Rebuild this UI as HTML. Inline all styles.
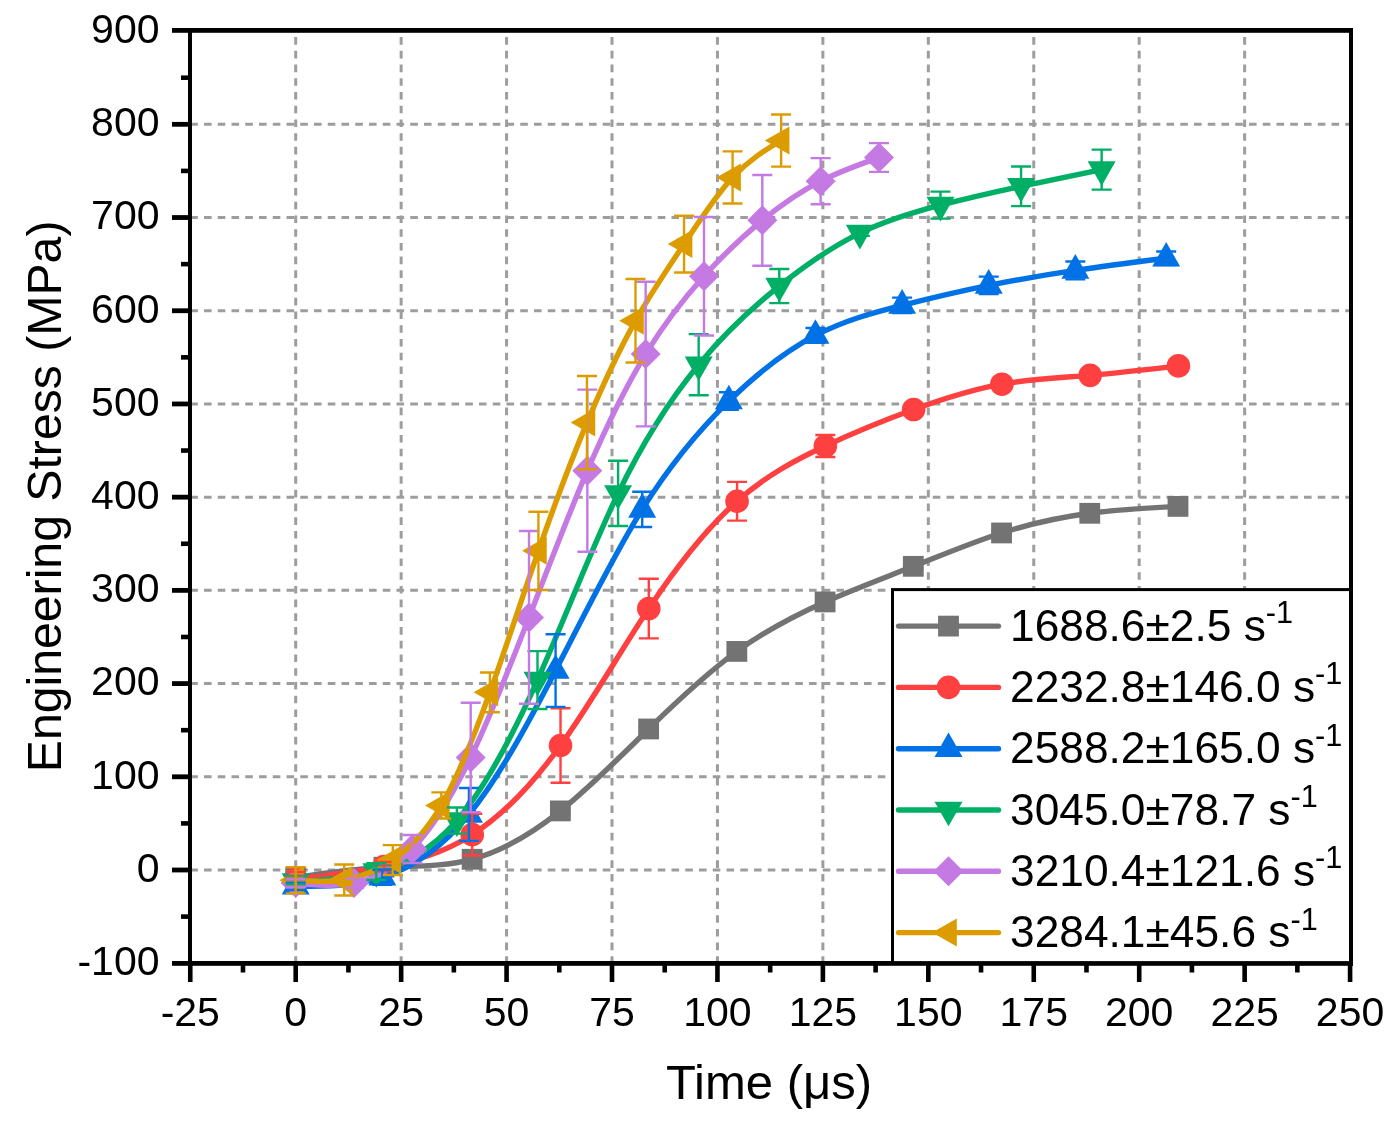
<!DOCTYPE html>
<html><head><meta charset="utf-8"><title>Engineering Stress vs Time</title>
<style>html,body{margin:0;padding:0;background:#fff;}body{width:1397px;height:1124px;overflow:hidden;}svg{display:block;will-change:transform;font-family:"Liberation Sans", sans-serif;}</style></head><body>
<svg width="1397" height="1124" viewBox="0 0 1397 1124">
<rect width="1397" height="1124" fill="#fff"/>
<g stroke="#9d9d9d" stroke-width="3" fill="none">
<line x1="190.25" y1="870.00" x2="1351.0" y2="870.00" stroke-dasharray="7.6 6.15"/>
<line x1="190.25" y1="776.79" x2="1351.0" y2="776.79" stroke-dasharray="7.6 6.15"/>
<line x1="190.25" y1="683.58" x2="1351.0" y2="683.58" stroke-dasharray="7.6 6.15"/>
<line x1="190.25" y1="590.37" x2="1351.0" y2="590.37" stroke-dasharray="7.6 6.15"/>
<line x1="190.25" y1="497.16" x2="1351.0" y2="497.16" stroke-dasharray="7.6 6.15"/>
<line x1="190.25" y1="403.95" x2="1351.0" y2="403.95" stroke-dasharray="7.6 6.15"/>
<line x1="190.25" y1="310.74" x2="1351.0" y2="310.74" stroke-dasharray="7.6 6.15"/>
<line x1="190.25" y1="217.53" x2="1351.0" y2="217.53" stroke-dasharray="7.6 6.15"/>
<line x1="190.25" y1="124.32" x2="1351.0" y2="124.32" stroke-dasharray="7.6 6.15"/>
<line x1="295.70" y1="37.1" x2="295.70" y2="963.4" stroke-dasharray="7.6 6.12"/>
<line x1="401.14" y1="37.1" x2="401.14" y2="963.4" stroke-dasharray="7.6 6.12"/>
<line x1="506.57" y1="37.1" x2="506.57" y2="963.4" stroke-dasharray="7.6 6.12"/>
<line x1="612.01" y1="37.1" x2="612.01" y2="963.4" stroke-dasharray="7.6 6.12"/>
<line x1="717.45" y1="37.1" x2="717.45" y2="963.4" stroke-dasharray="7.6 6.12"/>
<line x1="822.89" y1="37.1" x2="822.89" y2="963.4" stroke-dasharray="7.6 6.12"/>
<line x1="928.33" y1="37.1" x2="928.33" y2="963.4" stroke-dasharray="7.6 6.12"/>
<line x1="1033.76" y1="37.1" x2="1033.76" y2="963.4" stroke-dasharray="7.6 6.12"/>
<line x1="1139.20" y1="37.1" x2="1139.20" y2="963.4" stroke-dasharray="7.6 6.12"/>
<line x1="1244.64" y1="37.1" x2="1244.64" y2="963.4" stroke-dasharray="7.6 6.12"/>
</g>
<path d="M295.70 877.46C325.11 873.07 354.52 868.69 383.93 867.20C413.34 865.72 442.75 867.12 472.16 859.28C501.57 851.44 530.98 834.35 560.39 810.90C589.80 787.46 619.21 757.65 648.62 728.97C678.03 700.30 707.44 672.76 736.85 651.42C766.26 630.09 795.67 614.96 825.08 601.93C854.49 588.90 883.90 577.97 913.31 566.32C942.72 554.68 972.13 542.32 1001.54 532.95C1030.95 523.59 1060.36 517.21 1089.77 513.29C1119.18 509.36 1148.59 507.87 1178.00 506.39" fill="none" stroke="#737373" stroke-width="5.4" stroke-linejoin="round" stroke-linecap="round"/>
<rect x="285.30" y="867.06" width="20.80" height="20.80" fill="#737373"/>
<rect x="373.53" y="856.80" width="20.80" height="20.80" fill="#737373"/>
<rect x="461.76" y="848.88" width="20.80" height="20.80" fill="#737373"/>
<rect x="549.99" y="800.50" width="20.80" height="20.80" fill="#737373"/>
<rect x="638.22" y="718.57" width="20.80" height="20.80" fill="#737373"/>
<rect x="726.45" y="641.02" width="20.80" height="20.80" fill="#737373"/>
<rect x="814.68" y="591.53" width="20.80" height="20.80" fill="#737373"/>
<rect x="902.91" y="555.92" width="20.80" height="20.80" fill="#737373"/>
<rect x="991.14" y="522.55" width="20.80" height="20.80" fill="#737373"/>
<rect x="1079.37" y="502.89" width="20.80" height="20.80" fill="#737373"/>
<rect x="1167.60" y="495.99" width="20.80" height="20.80" fill="#737373"/>
<path d="M295.70 879.32C325.12 875.78 354.55 872.25 383.97 866.64C413.40 861.04 442.82 853.37 472.24 834.67C501.67 815.97 531.09 786.25 560.52 745.47C589.94 704.70 619.37 652.87 648.79 608.55C678.21 564.22 707.64 527.39 737.06 501.26C766.49 475.13 795.91 459.71 825.33 445.99C854.76 432.26 884.18 420.24 913.61 409.54C943.03 398.85 972.45 389.48 1001.88 384.19C1031.30 378.90 1060.73 377.70 1090.15 375.33C1119.57 372.97 1149.00 369.45 1178.42 365.92" fill="none" stroke="#ff4040" stroke-width="5.4" stroke-linejoin="round" stroke-linecap="round"/>
<circle cx="295.70" cy="879.32" r="11.8" fill="#ff4040"/>
<circle cx="383.97" cy="866.64" r="11.8" fill="#ff4040"/>
<circle cx="472.24" cy="834.67" r="11.8" fill="#ff4040"/>
<circle cx="560.52" cy="745.47" r="11.8" fill="#ff4040"/>
<circle cx="648.79" cy="608.55" r="11.8" fill="#ff4040"/>
<circle cx="737.06" cy="501.26" r="11.8" fill="#ff4040"/>
<circle cx="825.33" cy="445.99" r="11.8" fill="#ff4040"/>
<circle cx="913.61" cy="409.54" r="11.8" fill="#ff4040"/>
<circle cx="1001.88" cy="384.19" r="11.8" fill="#ff4040"/>
<circle cx="1090.15" cy="375.33" r="11.8" fill="#ff4040"/>
<circle cx="1178.42" cy="365.92" r="11.8" fill="#ff4040"/>
<path d="M295.70 886.31C324.58 886.35 353.45 886.38 382.33 877.27C411.20 868.16 440.08 849.90 468.95 814.45C497.83 778.99 526.71 726.34 555.58 670.53C584.46 614.72 613.33 555.76 642.21 509.37C671.09 462.98 699.96 429.18 728.84 401.06C757.71 372.95 786.59 350.52 815.46 335.44C844.34 320.36 873.22 312.61 902.09 305.33C930.97 298.05 959.84 291.24 988.72 285.39C1017.60 279.54 1046.47 274.66 1075.35 270.38C1105.63 265.90 1135.91 262.08 1166.19 258.26" fill="none" stroke="#0072e5" stroke-width="5.4" stroke-linejoin="round" stroke-linecap="round"/>
<path d="M295.70 870.01L309.70 894.61L281.70 894.61Z" fill="#0072e5"/>
<path d="M382.33 860.97L396.33 885.57L368.33 885.57Z" fill="#0072e5"/>
<path d="M468.95 798.15L482.95 822.75L454.95 822.75Z" fill="#0072e5"/>
<path d="M555.58 654.23L569.58 678.83L541.58 678.83Z" fill="#0072e5"/>
<path d="M642.21 493.07L656.21 517.67L628.21 517.67Z" fill="#0072e5"/>
<path d="M728.84 384.76L742.84 409.36L714.84 409.36Z" fill="#0072e5"/>
<path d="M815.46 319.14L829.46 343.74L801.46 343.74Z" fill="#0072e5"/>
<path d="M902.09 289.03L916.09 313.63L888.09 313.63Z" fill="#0072e5"/>
<path d="M988.72 269.09L1002.72 293.69L974.72 293.69Z" fill="#0072e5"/>
<path d="M1075.35 254.08L1089.35 278.68L1061.35 278.68Z" fill="#0072e5"/>
<path d="M1166.19 241.96L1180.19 266.56L1152.19 266.56Z" fill="#0072e5"/>
<path d="M295.70 881.65C322.57 880.13 349.43 878.61 376.30 871.49C403.16 864.37 430.03 851.65 456.89 820.60C483.76 789.54 510.62 740.15 537.49 680.04C564.35 619.93 591.22 549.10 618.09 493.43C644.95 437.77 671.82 397.27 698.68 364.71C725.55 332.15 752.41 307.52 779.28 286.04C806.14 264.55 833.01 246.21 859.87 233.10C886.74 219.99 913.61 212.11 940.47 205.13C967.34 198.16 994.20 192.07 1021.07 186.30C1047.93 180.54 1074.80 175.08 1101.66 169.62" fill="none" stroke="#00af66" stroke-width="5.4" stroke-linejoin="round" stroke-linecap="round"/>
<path d="M295.70 897.95L309.70 873.35L281.70 873.35Z" fill="#00af66"/>
<path d="M376.30 887.79L390.30 863.19L362.30 863.19Z" fill="#00af66"/>
<path d="M456.89 836.90L470.89 812.30L442.89 812.30Z" fill="#00af66"/>
<path d="M537.49 696.34L551.49 671.74L523.49 671.74Z" fill="#00af66"/>
<path d="M618.09 509.73L632.09 485.13L604.09 485.13Z" fill="#00af66"/>
<path d="M698.68 381.01L712.68 356.41L684.68 356.41Z" fill="#00af66"/>
<path d="M779.28 302.34L793.28 277.74L765.28 277.74Z" fill="#00af66"/>
<path d="M859.87 249.40L873.87 224.80L845.87 224.80Z" fill="#00af66"/>
<path d="M940.47 221.43L954.47 196.83L926.47 196.83Z" fill="#00af66"/>
<path d="M1021.07 202.60L1035.07 178.00L1007.07 178.00Z" fill="#00af66"/>
<path d="M1101.66 185.92L1115.66 161.32L1087.66 161.32Z" fill="#00af66"/>
<path d="M295.70 882.96C315.14 884.95 334.59 886.94 354.03 883.05C373.47 879.16 392.91 869.38 412.36 849.03C431.80 828.67 451.24 797.73 470.68 757.50C490.13 717.26 509.57 667.73 529.01 617.40C548.45 567.08 567.90 515.96 587.34 470.69C606.78 425.42 626.23 386.00 645.67 354.08C665.11 322.16 684.55 297.74 704.00 276.25C723.44 254.77 742.88 236.22 762.32 220.33C781.77 204.44 801.21 191.21 820.65 181.18C840.09 171.15 859.54 164.33 878.98 157.50" fill="none" stroke="#c479e3" stroke-width="5.4" stroke-linejoin="round" stroke-linecap="round"/>
<path d="M295.70 867.96L310.70 882.96L295.70 897.96L280.70 882.96Z" fill="#c479e3"/>
<path d="M354.03 868.05L369.03 883.05L354.03 898.05L339.03 883.05Z" fill="#c479e3"/>
<path d="M412.36 834.03L427.36 849.03L412.36 864.03L397.36 849.03Z" fill="#c479e3"/>
<path d="M470.68 742.50L485.68 757.50L470.68 772.50L455.68 757.50Z" fill="#c479e3"/>
<path d="M529.01 602.40L544.01 617.40L529.01 632.40L514.01 617.40Z" fill="#c479e3"/>
<path d="M587.34 455.69L602.34 470.69L587.34 485.69L572.34 470.69Z" fill="#c479e3"/>
<path d="M645.67 339.08L660.67 354.08L645.67 369.08L630.67 354.08Z" fill="#c479e3"/>
<path d="M704.00 261.25L719.00 276.25L704.00 291.25L689.00 276.25Z" fill="#c479e3"/>
<path d="M762.32 205.33L777.32 220.33L762.32 235.33L747.32 220.33Z" fill="#c479e3"/>
<path d="M820.65 166.18L835.65 181.18L820.65 196.18L805.65 181.18Z" fill="#c479e3"/>
<path d="M878.98 142.50L893.98 157.50L878.98 172.50L863.98 157.50Z" fill="#c479e3"/>
<path d="M295.70 880.25C311.88 881.41 328.06 882.56 344.24 879.97C360.42 877.38 376.61 871.04 392.79 860.03C408.97 849.01 425.15 833.31 441.33 805.41C457.51 777.50 473.69 737.38 489.87 692.34C506.05 647.31 522.24 597.36 538.42 550.85C554.60 504.33 570.78 461.25 586.96 422.59C603.14 383.93 619.32 349.70 635.50 320.81C651.69 291.92 667.87 268.37 684.05 244.09C700.23 219.82 716.41 194.83 732.59 177.45C748.77 160.07 764.95 150.30 781.13 140.54" fill="none" stroke="#dc9c00" stroke-width="5.4" stroke-linejoin="round" stroke-linecap="round"/>
<path d="M279.40 880.25L304.00 866.25L304.00 894.25Z" fill="#dc9c00"/>
<path d="M327.94 879.97L352.54 865.97L352.54 893.97Z" fill="#dc9c00"/>
<path d="M376.49 860.03L401.09 846.03L401.09 874.03Z" fill="#dc9c00"/>
<path d="M425.03 805.41L449.63 791.41L449.63 819.41Z" fill="#dc9c00"/>
<path d="M473.57 692.34L498.17 678.34L498.17 706.34Z" fill="#dc9c00"/>
<path d="M522.12 550.85L546.72 536.85L546.72 564.85Z" fill="#dc9c00"/>
<path d="M570.66 422.59L595.26 408.59L595.26 436.59Z" fill="#dc9c00"/>
<path d="M619.20 320.81L643.80 306.81L643.80 334.81Z" fill="#dc9c00"/>
<path d="M667.75 244.09L692.35 230.09L692.35 258.09Z" fill="#dc9c00"/>
<path d="M716.29 177.45L740.89 163.45L740.89 191.45Z" fill="#dc9c00"/>
<path d="M764.83 140.54L789.43 126.54L789.43 154.54Z" fill="#dc9c00"/>
<path d="M295.70 875.59V879.32M285.70 875.59H305.70M285.70 879.32H305.70M383.93 865.34V869.07M373.93 865.34H393.93M373.93 869.07H393.93M472.16 857.42V861.15M462.16 857.42H482.16M462.16 861.15H482.16M560.39 809.04V812.77M550.39 809.04H570.39M550.39 812.77H570.39M648.62 727.11V730.84M638.62 727.11H658.62M638.62 730.84H658.62M736.85 649.56V653.29M726.85 649.56H746.85M726.85 653.29H746.85M825.08 600.06V603.79M815.08 600.06H835.08M815.08 603.79H835.08M913.31 564.46V568.19M903.31 564.46H923.31M903.31 568.19H923.31M1001.54 531.09V534.82M991.54 531.09H1011.54M991.54 534.82H1011.54M1089.77 511.42V515.15M1079.77 511.42H1099.77M1079.77 515.15H1099.77M1178.00 504.52V508.25M1168.00 504.52H1188.00M1168.00 508.25H1188.00" stroke="#737373" stroke-width="2.4" fill="none"/>
<path d="M295.70 872.05V886.59M285.70 872.05H305.70M285.70 886.59H305.70M383.97 861.98V871.30M373.97 861.98H393.97M373.97 871.30H393.97M472.24 813.79V855.55M462.24 813.79H482.24M462.24 855.55H482.24M560.52 708.19V782.76M550.52 708.19H570.52M550.52 782.76H570.52M648.79 578.72V638.37M638.79 578.72H658.79M638.79 638.37H658.79M737.06 481.87V520.65M727.06 481.87H747.06M727.06 520.65H747.06M825.33 434.99V456.99M815.33 434.99H835.33M815.33 456.99H835.33M913.61 406.75V412.34M903.61 406.75H923.61M903.61 412.34H923.61M1001.88 381.39V386.99M991.88 381.39H1011.88M991.88 386.99H1011.88M1090.15 372.54V378.13M1080.15 372.54H1100.15M1080.15 378.13H1100.15M1178.42 363.12V368.72M1168.42 363.12H1188.42M1168.42 368.72H1188.42" stroke="#ff4040" stroke-width="2.4" fill="none"/>
<path d="M295.70 882.58V890.04M285.70 882.58H305.70M285.70 890.04H305.70M382.33 869.81V884.73M372.33 869.81H392.33M372.33 884.73H392.33M468.95 788.07V840.83M458.95 788.07H478.95M458.95 840.83H478.95M555.58 634.18V706.88M545.58 634.18H565.58M545.58 706.88H565.58M642.21 491.75V526.99M632.21 491.75H652.21M632.21 526.99H652.21M728.84 392.30V409.82M718.84 392.30H738.84M718.84 409.82H738.84M815.46 327.98V342.90M805.46 327.98H825.46M805.46 342.90H825.46M902.09 297.60V313.07M892.09 297.60H912.09M892.09 313.07H912.09M988.72 276.63V294.15M978.72 276.63H998.72M978.72 294.15H998.72M1075.35 261.43V279.33M1065.35 261.43H1085.35M1065.35 279.33H1085.35M1166.19 251.55V264.97M1156.19 251.55H1176.19M1156.19 264.97H1176.19" stroke="#0072e5" stroke-width="2.4" fill="none"/>
<path d="M295.70 878.67V884.63M285.70 878.67H305.70M285.70 884.63H305.70M376.30 863.10V879.88M366.30 863.10H386.30M366.30 879.88H386.30M456.89 807.55V833.65M446.89 807.55H466.89M446.89 833.65H466.89M537.49 651.14V708.93M527.49 651.14H547.49M527.49 708.93H547.49M618.09 460.81V526.06M608.09 460.81H628.09M608.09 526.06H628.09M698.68 334.14V395.28M688.68 334.14H708.68M688.68 395.28H708.68M779.28 268.98V303.10M769.28 268.98H789.28M769.28 303.10H789.28M859.87 230.30V235.89M849.87 230.30H869.87M849.87 235.89H869.87M940.47 191.62V218.65M930.47 191.62H950.47M930.47 218.65H950.47M1021.07 166.45V206.16M1011.07 166.45H1031.07M1011.07 206.16H1031.07M1101.66 149.58V189.66M1091.66 149.58H1111.66M1091.66 189.66H1111.66" stroke="#00af66" stroke-width="2.4" fill="none"/>
<path d="M295.70 879.23V886.68M285.70 879.23H305.70M285.70 886.68H305.70M354.03 878.39V887.71M344.03 878.39H364.03M344.03 887.71H364.03M412.36 835.05V863.01M402.36 835.05H422.36M402.36 863.01H422.36M470.68 702.69V812.30M460.68 702.69H480.68M460.68 812.30H480.68M529.01 531.00V703.81M519.01 531.00H539.01M519.01 703.81H539.01M587.34 389.60V551.78M577.34 389.60H597.34M577.34 551.78H597.34M645.67 281.75V426.41M635.67 281.75H655.67M635.67 426.41H655.67M704.00 217.06V335.44M694.00 217.06H714.00M694.00 335.44H714.00M762.32 174.93V265.72M752.32 174.93H772.32M752.32 265.72H772.32M820.65 158.16V204.20M810.65 158.16H830.65M810.65 204.20H830.65M878.98 143.15V171.86M868.98 143.15H888.98M868.98 171.86H888.98" stroke="#c479e3" stroke-width="2.4" fill="none"/>
<path d="M295.70 867.11V893.40M285.70 867.11H305.70M285.70 893.40H305.70M344.24 864.50V895.45M334.24 864.50H354.24M334.24 895.45H354.24M392.79 845.11V874.94M382.79 845.11H402.79M382.79 874.94H402.79M441.33 792.36V818.45M431.33 792.36H451.33M431.33 818.45H451.33M489.87 672.49V712.20M479.87 672.49H499.87M479.87 712.20H499.87M538.42 511.70V590.00M528.42 511.70H548.42M528.42 590.00H548.42M586.96 375.99V469.20M576.96 375.99H596.96M576.96 469.20H596.96M635.50 279.05V362.56M625.50 279.05H645.50M625.50 362.56H645.50M684.05 215.76V272.43M674.05 215.76H694.05M674.05 272.43H694.05M732.59 151.35V203.55M722.59 151.35H742.59M722.59 203.55H742.59M781.13 114.44V166.64M771.13 114.44H791.13M771.13 166.64H791.13" stroke="#dc9c00" stroke-width="2.4" fill="none"/>
<g fill="#000">
<rect x="188" y="28" width="1165" height="4.8"/>
<rect x="188" y="961" width="1165" height="4.8"/>
<rect x="188" y="28" width="4" height="937.8"/>
<rect x="1349" y="28" width="4" height="937.8"/>
<rect x="172" y="961.00" width="18" height="4.8"/>
<rect x="172" y="867.60" width="18" height="4.8"/>
<rect x="172" y="774.39" width="18" height="4.8"/>
<rect x="172" y="681.18" width="18" height="4.8"/>
<rect x="172" y="587.97" width="18" height="4.8"/>
<rect x="172" y="494.76" width="18" height="4.8"/>
<rect x="172" y="401.55" width="18" height="4.8"/>
<rect x="172" y="308.34" width="18" height="4.8"/>
<rect x="172" y="215.13" width="18" height="4.8"/>
<rect x="172" y="121.92" width="18" height="4.8"/>
<rect x="172" y="28.00" width="18" height="4.8"/>
<rect x="181" y="914.31" width="9" height="4.6"/>
<rect x="181" y="821.10" width="9" height="4.6"/>
<rect x="181" y="727.88" width="9" height="4.6"/>
<rect x="181" y="634.68" width="9" height="4.6"/>
<rect x="181" y="541.47" width="9" height="4.6"/>
<rect x="181" y="448.25" width="9" height="4.6"/>
<rect x="181" y="355.05" width="9" height="4.6"/>
<rect x="181" y="261.83" width="9" height="4.6"/>
<rect x="181" y="168.62" width="9" height="4.6"/>
<rect x="181" y="75.41" width="9" height="4.6"/>
<rect x="187.96" y="963" width="4.6" height="19"/>
<rect x="293.40" y="963" width="4.6" height="19"/>
<rect x="398.84" y="963" width="4.6" height="19"/>
<rect x="504.27" y="963" width="4.6" height="19"/>
<rect x="609.71" y="963" width="4.6" height="19"/>
<rect x="715.15" y="963" width="4.6" height="19"/>
<rect x="820.59" y="963" width="4.6" height="19"/>
<rect x="926.03" y="963" width="4.6" height="19"/>
<rect x="1031.46" y="963" width="4.6" height="19"/>
<rect x="1136.90" y="963" width="4.6" height="19"/>
<rect x="1242.34" y="963" width="4.6" height="19"/>
<rect x="1347.78" y="963" width="4.6" height="19"/>
<rect x="240.68" y="963" width="4.6" height="9.5"/>
<rect x="346.12" y="963" width="4.6" height="9.5"/>
<rect x="451.56" y="963" width="4.6" height="9.5"/>
<rect x="556.99" y="963" width="4.6" height="9.5"/>
<rect x="662.43" y="963" width="4.6" height="9.5"/>
<rect x="767.87" y="963" width="4.6" height="9.5"/>
<rect x="873.31" y="963" width="4.6" height="9.5"/>
<rect x="978.74" y="963" width="4.6" height="9.5"/>
<rect x="1084.18" y="963" width="4.6" height="9.5"/>
<rect x="1189.62" y="963" width="4.6" height="9.5"/>
<rect x="1295.06" y="963" width="4.6" height="9.5"/>
</g>
<g font-size="41" fill="#000" text-anchor="end">
<text x="159.5" y="975.01">-100</text>
<text x="159.5" y="881.80">0</text>
<text x="159.5" y="788.59">100</text>
<text x="159.5" y="695.38">200</text>
<text x="159.5" y="602.17">300</text>
<text x="159.5" y="508.96">400</text>
<text x="159.5" y="415.75">500</text>
<text x="159.5" y="322.54">600</text>
<text x="159.5" y="229.33">700</text>
<text x="159.5" y="136.12">800</text>
<text x="159.5" y="42.91">900</text>
</g>
<g font-size="41" fill="#000" text-anchor="middle">
<text x="190.26" y="1026">-25</text>
<text x="295.70" y="1026">0</text>
<text x="401.14" y="1026">25</text>
<text x="506.57" y="1026">50</text>
<text x="612.01" y="1026">75</text>
<text x="717.45" y="1026">100</text>
<text x="822.89" y="1026">125</text>
<text x="928.33" y="1026">150</text>
<text x="1033.76" y="1026">175</text>
<text x="1139.20" y="1026">200</text>
<text x="1244.64" y="1026">225</text>
<text x="1350.08" y="1026">250</text>
</g>
<text x="769" y="1099" font-size="49" text-anchor="middle">Time (μs)</text>
<text transform="translate(61 496.4) rotate(-90)" font-size="48.2" text-anchor="middle">Engineering Stress (MPa)</text>
<rect x="892.5" y="589.6" width="458" height="373" fill="#fff" stroke="#000" stroke-width="3"/>
<line x1="898.5" y1="626.10" x2="998.5" y2="626.10" stroke="#737373" stroke-width="5.4" stroke-linecap="round"/>
<rect x="938.10" y="615.70" width="20.80" height="20.80" fill="#737373"/>
<text x="1010" y="640.70" font-size="44.3">1688.6±2.5 s<tspan font-size="30.7" dy="-17.7">-1</tspan></text>
<line x1="898.5" y1="687.40" x2="998.5" y2="687.40" stroke="#ff4040" stroke-width="5.4" stroke-linecap="round"/>
<circle cx="948.50" cy="687.40" r="11.8" fill="#ff4040"/>
<text x="1010" y="702.00" font-size="44.3">2232.8±146.0 s<tspan font-size="30.7" dy="-17.7">-1</tspan></text>
<line x1="898.5" y1="748.70" x2="998.5" y2="748.70" stroke="#0072e5" stroke-width="5.4" stroke-linecap="round"/>
<path d="M948.50 732.40L962.50 757.00L934.50 757.00Z" fill="#0072e5"/>
<text x="1010" y="763.30" font-size="44.3">2588.2±165.0 s<tspan font-size="30.7" dy="-17.7">-1</tspan></text>
<line x1="898.5" y1="810.00" x2="998.5" y2="810.00" stroke="#00af66" stroke-width="5.4" stroke-linecap="round"/>
<path d="M948.50 826.30L962.50 801.70L934.50 801.70Z" fill="#00af66"/>
<text x="1010" y="824.60" font-size="44.3">3045.0±78.7 s<tspan font-size="30.7" dy="-17.7">-1</tspan></text>
<line x1="898.5" y1="871.30" x2="998.5" y2="871.30" stroke="#c479e3" stroke-width="5.4" stroke-linecap="round"/>
<path d="M948.50 856.30L963.50 871.30L948.50 886.30L933.50 871.30Z" fill="#c479e3"/>
<text x="1010" y="885.90" font-size="44.3">3210.4±121.6 s<tspan font-size="30.7" dy="-17.7">-1</tspan></text>
<line x1="898.5" y1="932.60" x2="998.5" y2="932.60" stroke="#dc9c00" stroke-width="5.4" stroke-linecap="round"/>
<path d="M932.20 932.60L956.80 918.60L956.80 946.60Z" fill="#dc9c00"/>
<text x="1010" y="947.20" font-size="44.3">3284.1±45.6 s<tspan font-size="30.7" dy="-17.7">-1</tspan></text>
</svg></body></html>
